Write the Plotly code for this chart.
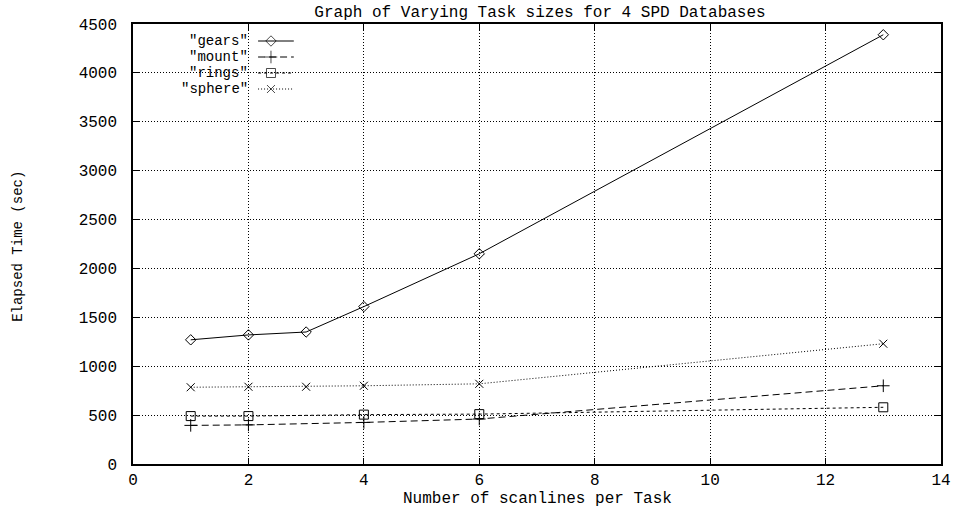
import plotly.graph_objects as go

# ---- data ----
gears_x = [1, 2, 3, 4, 6, 13]
gears_y = [1270, 1320, 1350, 1610, 2150, 4390]
mount_x = [1, 2, 4, 6, 13]
mount_y = [395, 400, 425, 460, 800]
rings_x = [1, 2, 4, 6, 13]
rings_y = [490, 490, 505, 510, 580]
sphere_x = [1, 2, 3, 4, 6, 13]
sphere_y = [785, 790, 790, 800, 820, 1230]

series_names = ['"gears"', '"mount"', '"rings"', '"sphere"']
x_ticks = [0, 2, 4, 6, 8, 10, 12, 14]
y_ticks = [0, 500, 1000, 1500, 2000, 2500, 3000, 3500, 4000, 4500]

title_text = "Graph of Varying Task sizes for 4 SPD Databases"
x_title = "Number of scanlines per Task"
y_title = "Elapsed Time (sec)"

FONT = "Liberation Mono"
FS = 16
styles = [
    dict(dash="solid", symbol="diamond-open", size=8),
    dict(dash="7px,4px", symbol="cross-thin-open", size=9),
    dict(dash="3px,3px", symbol="square-open", size=9),
    dict(dash="1px,2px", symbol="x-thin-open", size=8),
]
series = [(gears_x, gears_y), (mount_x, mount_y), (rings_x, rings_y), (sphere_x, sphere_y)]

fig = go.Figure()
for (xs, ys), st, name in zip(series, styles, series_names):
    fig.add_trace(go.Scatter(
        x=xs, y=ys, mode="lines+markers", name=name, showlegend=False,
        line=dict(color="black", width=1, dash=st["dash"]),
        marker=dict(symbol=st["symbol"], size=st["size"], color="black",
                    line=dict(color="black", width=1)),
    ))

# ---- gnuplot-style key (text right-justified, sample to the right) ----
W, H = 814.0, 440.0
L = 133.0
def px(xp):
    return (xp - L) / W
def py(yp):
    return (464.0 - yp) / H

rows = [41, 57, 73, 89]
for i, (st, name) in enumerate(zip(styles, series_names)):
    r = py(rows[i])
    fig.add_trace(go.Scatter(
        x=[px(259), px(272), px(295)], y=[r, r, r], mode="lines+markers",
        xaxis="x2", yaxis="y2", showlegend=False, hoverinfo="skip",
        line=dict(color="black", width=1, dash=st["dash"]),
        marker=dict(symbol=st["symbol"], size=[0, st["size"], 0], color="black",
                    line=dict(color="black", width=1)),
    ))
    fig.add_annotation(x=px(250), y=r, xref="x2", yref="y2", text=name,
                       showarrow=False, xanchor="right", yanchor="middle", borderpad=0,
                       font=dict(family=FONT, size=14, color="black"))

axis_common = dict(
    showline=True, linecolor="black", linewidth=1.5, mirror="ticks",
    ticks="inside", ticklen=6, tickcolor="black", tickwidth=1,
    showgrid=True, gridcolor="black", gridwidth=1, griddash="1px,2px",
    zeroline=False, tickfont=dict(family=FONT, size=FS, color="black"),
)

fig.update_layout(
    width=963, height=510,
    margin=dict(l=133, r=16, t=24, b=46),
    paper_bgcolor="white", plot_bgcolor="white",
    showlegend=False,
    title=dict(text=title_text, x=540/963, xanchor="center", xref="container",
               y=1 - 11/510, yanchor="middle", yref="container",
               font=dict(family=FONT, size=FS, color="black")),
    xaxis=dict(range=[0, 14], tickvals=x_ticks, ticktext=[str(v) for v in x_ticks],
               ticklabelstandoff=0, **axis_common),
    yaxis=dict(range=[0, 4500], tickvals=y_ticks, ticktext=[str(v) for v in y_ticks],
               ticklabelstandoff=11, **axis_common),
    xaxis2=dict(range=[0, 1], overlaying="x", visible=False, anchor="y2"),
    yaxis2=dict(range=[0, 1], overlaying="y", visible=False, anchor="x2"),
)

fig.add_annotation(x=0.5, y=py(499), xref="paper", yref="paper", text=x_title,
                   showarrow=False, xanchor="center", yanchor="middle", borderpad=0,
                   font=dict(family=FONT, size=FS, color="black"))
fig.add_annotation(x=px(17), y=py(246), xref="paper", yref="paper", text=y_title,
                   showarrow=False, xanchor="center", yanchor="middle", textangle=-90,
                   font=dict(family=FONT, size=14, color="black"))

fig.write_html("out.html")
